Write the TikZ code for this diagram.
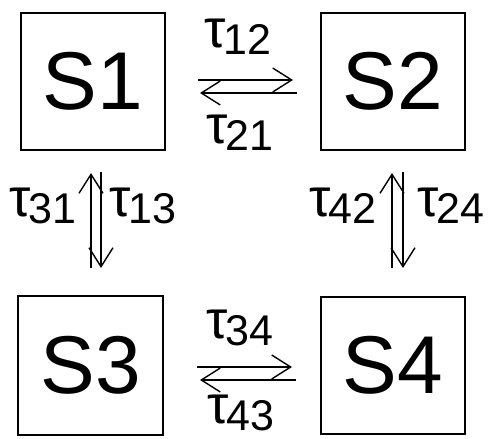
\documentclass[tikz,border=0pt]{standalone}
\usepackage{fontspec}
\setmainfont{Liberation Sans}
\usetikzlibrary{arrows.meta}
\newcommand{\tlab}[1]{{\fontsize{54}{54}\selectfont τ}\hspace{-2pt}\raisebox{-7pt}{#1}}
\begin{document}
\begin{tikzpicture}[x=1pt,y=-1pt,
  sbox/.style={draw,line width=1.1pt,minimum width=144pt,minimum height=137pt,inner sep=0pt,font=\fontsize{82}{82}\selectfont},
  tl/.style={inner sep=0pt,font=\fontsize{43}{43}\selectfont},
  arr/.style={line width=1.4pt,-{Straight Barb[length=19pt,width=24pt,line width=1.4pt]}}]
\useasboundingbox (0,0) rectangle (496,439);
\node[sbox] (s1) at (93,81.5) {S1};
\node[sbox] (s2) at (393,81.5) {S2};
\node[sbox,minimum width=145pt,minimum height=139pt] (s3) at (90.5,365.5) {S3};
\node[sbox] (s4) at (393,365.5) {S4};
% horizontal top
\coordinate (a1) at (198,80); \coordinate (a2) at (293,80);
\coordinate (b1) at (297,93); \coordinate (b2) at (200,93);
\draw[arr] (a1) -- (a2);
\draw[arr] (b1) -- (b2);
% horizontal bottom
\coordinate (c1) at (197,367); \coordinate (c2) at (292,367);
\coordinate (d1) at (296,380); \coordinate (d2) at (200,380);
\draw[arr] (c1) -- (c2);
\draw[arr] (d1) -- (d2);
% vertical left
\coordinate (e1) at (91,268); \coordinate (e2) at (91,173);
\coordinate (f1) at (101,172); \coordinate (f2) at (101,268);
\draw[arr] (e1) -- (e2);
\draw[arr] (f1) -- (f2);
% vertical right
\coordinate (g1) at (392,268); \coordinate (g2) at (392,173);
\coordinate (h1) at (403,172); \coordinate (h2) at (403,268);
\draw[arr] (g1) -- (g2);
\draw[arr] (h1) -- (h2);
% labels
\node[tl] (t12) at (238,37) {\tlab{12}};
\node[tl] (t21) at (240,133) {\tlab{21}};
\node[tl] (t34) at (240,328) {\tlab{34}};
\node[tl] (t43) at (241,413) {\tlab{43}};
\node[tl] (t31) at (43,206) {\tlab{31}};
\node[tl] (t13) at (143,206) {\tlab{13}};
\node[tl] (t42) at (343,206) {\tlab{42}};
\node[tl] (t24) at (451,206) {\tlab{24}};
\end{tikzpicture}
\end{document}
